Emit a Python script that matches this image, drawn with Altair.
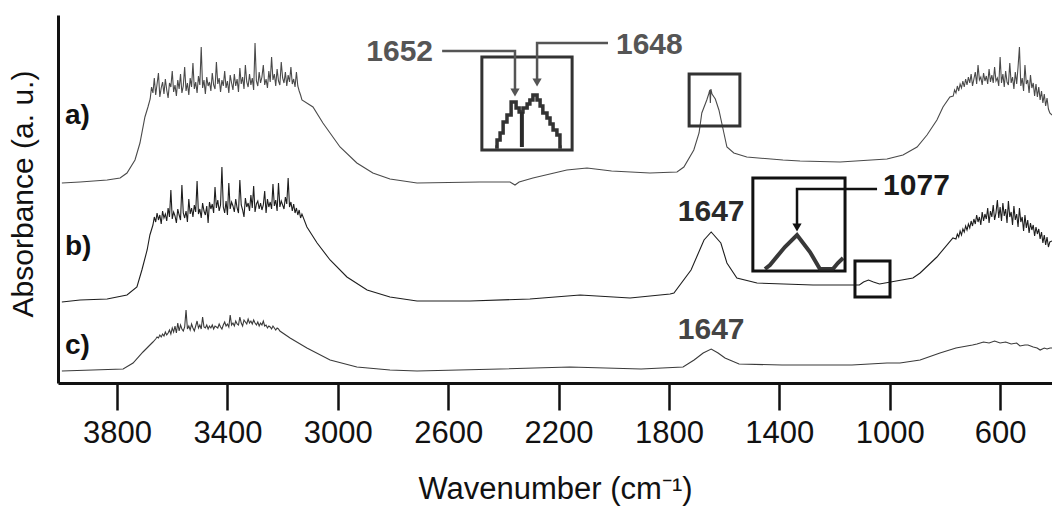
import altair as alt
import pandas as pd

# ---------------------------------------------------------------------------
# FTIR spectra a), b), c)  -- wavenumber (cm-1) vs. absorbance (a.u., stacked)
# ---------------------------------------------------------------------------
X_DOMAIN = [412, 4014]
Y_DOMAIN = [0, 368]
TICKS = [3800, 3400, 3000, 2600, 2200, 1800, 1400, 1000, 600]
NOISE_STEP = 5  # cm-1 between samples in the noisy bands

# smooth stretches of each spectrum: (wavenumber, absorbance)
a_smooth = [
    (4000, 200), (3934, 201), (3836, 203), (3789, 205), (3764, 210), (3735, 223),
    (3717, 240), (3699, 266), (3688, 276),
    (3090, 276), (3054, 260), (2992, 236), (2931, 220), (2873, 210), (2811, 204),
    (2713, 200), (2485, 201), (2376, 201), (2358, 198), (2343, 201), (2293, 205),
    (2170, 213), (2097, 215), (2008, 212), (1869, 210), (1771, 211),
    (1746, 216), (1710, 233), (1691, 250), (1681, 270), (1663, 283), (1656, 289),
    (1652, 293), (1650, 280), (1648, 294), (1644, 289), (1632, 284), (1619, 273),
    (1601, 250), (1590, 236), (1565, 230), (1518, 226), (1387, 223), (1325, 222),
    (1180, 221), (1010, 224), (952, 228), (901, 236), (865, 248), (829, 263),
    (807, 276), (782, 286), (412, 268),
]
# noisy bands, one value every NOISE_STEP cm-1 from the start wavenumber downwards
a_oh_start = 3680
a_oh = [
    284, 296, 290, 305, 288, 299, 310, 286, 295, 301,
    289, 304, 293, 285, 300, 296, 312, 291, 298, 287,
    303, 294, 309, 290, 297, 316, 292, 300, 288, 305,
    296, 320, 294, 301, 290, 307, 298, 336, 295, 303,
    289, 306, 297, 301, 292, 310, 298, 294, 321, 299,
    305, 291, 303, 297, 312, 295, 302, 290, 308, 300,
    293, 309, 297, 304, 291, 315, 299, 306, 294, 318,
    301, 296, 309, 298, 305, 293, 340, 302, 297, 311,
    300, 306, 318, 298, 304, 295, 312, 301, 326, 303,
    309, 297, 314, 302, 298, 321, 305, 300, 311, 297,
    308, 301, 316, 299, 304, 296, 311, 297, 292, 288, 283,
]
a_lib_start = 770
a_lib = [
    287, 293, 290, 297, 292, 299, 295, 302, 296, 304,
    298, 306, 300, 309, 297, 304, 311, 299, 318, 303,
    306, 298, 310, 302, 307, 299, 314, 301, 308, 300,
    316, 302, 305, 297, 326, 300, 309, 296, 312, 301,
    298, 320, 300, 306, 294, 311, 299, 316, 336, 297,
    305, 292, 318, 299, 303, 290, 308, 295, 300, 287,
    299, 286, 296, 283, 292, 280, 289, 277, 285, 274,
    270,
]

b_smooth = [
    (4000, 81), (3934, 83), (3836, 84), (3764, 88), (3728, 96), (3710, 113),
    (3691, 133), (3681, 148),
    (3112, 156), (3075, 140), (3028, 123), (2967, 106), (2894, 93), (2811, 86),
    (2713, 82), (2521, 82), (2304, 84), (2122, 88), (1941, 85), (1796, 89),
    (1782, 90), (1720, 113), (1673, 143), (1647, 151), (1612, 140), (1590, 120),
    (1554, 105), (1481, 100), (1278, 98), (1180, 98),
    (1110, 98), (1095, 101), (1077, 103), (1059, 101), (1037, 99),
    (916, 105), (890, 110), (829, 126), (771, 145), (412, 142),
]
b_oh_start = 3670
b_oh = [
    158, 166, 161, 170, 163, 168, 159, 172, 165, 169,
    162, 175, 166, 193, 164, 171, 167, 160, 174, 168,
    163, 198, 170, 165, 172, 161, 184, 169, 175, 166,
    178, 171, 202, 169, 174, 165, 180, 172, 168, 177,
    160, 181, 174, 179, 170, 196, 175, 183, 172, 178,
    216, 176, 170, 182, 168, 200, 174, 181, 177, 171,
    184, 175, 170, 203, 178, 173, 166, 185, 176, 180,
    172, 188, 175, 197, 171, 179, 182, 174, 180, 173,
    178, 192, 170, 184, 176, 181, 174, 199, 177, 183,
    172, 200, 176, 182, 178, 174, 186, 179, 205, 176,
    181, 172, 179, 170, 175, 168, 173, 165, 169,
]
b_lib_start = 760
b_lib = [
    144, 149, 146, 152, 148, 154, 151, 157, 153, 159,
    155, 162, 157, 164, 159, 168, 161, 166, 158, 171,
    162, 169, 164, 175, 160, 172, 166, 178, 163, 170,
    183, 165, 176, 162, 180, 167, 174, 160, 182, 166,
    171, 158, 177, 163, 169, 156, 175, 161, 166, 152,
    168, 155, 163, 150, 160, 153, 158, 147, 156, 149,
    154, 144, 151, 140, 148, 138, 146, 136, 141,
]

c_smooth = [
    (4000, 12), (3778, 14), (3742, 20), (3706, 31), (3670, 41),
    (3173, 45), (3112, 35), (3028, 23), (2931, 16), (2811, 13), (2713, 12),
    (2412, 14), (2159, 16), (1901, 14), (1749, 16),
    (1709, 23), (1676, 30), (1647, 34), (1622, 30), (1597, 25), (1546, 19),
    (1390, 18), (1137, 18), (1010, 20), (963, 20), (890, 23), (818, 30),
    (760, 35), (740, 36), (720, 37), (700, 38), (684, 39), (660, 41), (640, 40),
    (620, 42), (600, 40), (580, 41), (560, 39), (540, 40), (528, 37), (510, 38),
    (499, 38), (480, 36), (466, 35), (455, 33), (440, 35), (430, 34), (419, 35),
    (412, 35),
]
c_oh_start = 3660
c_oh = [
    44, 46, 45, 48, 46, 49, 47, 51, 48, 50,
    53, 49, 55, 51, 57, 50, 60, 52, 58, 54,
    52, 56, 73, 54, 57, 53, 59, 55, 52, 57,
    62, 55, 58, 54, 66, 56, 55, 58, 54, 57,
    55, 58, 54, 57, 56, 55, 59, 56, 54, 58,
    61, 57, 59, 56, 68, 58, 60, 57, 62, 59,
    58, 66, 60, 57, 63, 61, 59, 64, 60, 62,
    59, 63, 60, 58, 61, 57, 60, 58, 62, 57,
    58, 55, 57, 56, 54, 57, 55, 53, 55, 54,
    52,
]

trace_names = ["a", "b", "c"]
trace_colors = ["#4a4a4a", "#1e1e1e", "#3a3a3a"]


def sampled(start, values, step=NOISE_STEP):
    return [(start - step * i, v) for i, v in enumerate(values)]


def spectrum(name, *parts):
    rows = [p for part in parts for p in part]
    df = pd.DataFrame(rows, columns=["w", "y"]).sort_values("w")
    df["trace"] = name
    return df


spectra = pd.concat([
    spectrum("a", a_smooth, sampled(a_oh_start, a_oh), sampled(a_lib_start, a_lib)),
    spectrum("b", b_smooth, sampled(b_oh_start, b_oh), sampled(b_lib_start, b_lib)),
    spectrum("c", c_smooth, sampled(c_oh_start, c_oh)),
], ignore_index=True)

# ---------------------------------------------------------------------------
# annotations: frames, magnified insets, arrows and peak labels
# ---------------------------------------------------------------------------
frames = pd.DataFrame({
    "w":  [2478, 1727, 1496, 1126],
    "w2": [2151, 1543, 1162, 999],
    "y":  [326, 309, 205, 122],
    "y2": [233, 257, 112, 86],
    "col": ["#333333", "#333333", "#111111", "#111111"],
})

# magnified 1652/1648 doublet of spectrum a (pixelated step outline)
inset_a_w = [2430, 2423, 2412, 2401, 2387, 2372, 2354, 2343, 2329, 2314, 2304,
             2293, 2278, 2267, 2257, 2242, 2231, 2220, 2206, 2195, 2188]
inset_a_y = [236, 243, 250, 261, 268, 281, 275, 271, 275, 279, 283,
             288, 283, 277, 270, 265, 259, 253, 248, 236, 236]
inset_a_bar = {"w": [2333], "y": [271], "y2": [236]}

# magnified 1077 band of spectrum b
inset_b_w = [1452, 1434, 1380, 1336, 1289, 1253, 1206, 1188, 1169]
inset_b_y = [114, 118, 136, 148, 131, 114, 114, 120, 125]

arrow_paths = {
    "1652": ([2622, 2358, 2358], [332, 332, 293], "#555555"),
    "1648": ([2021, 2278, 2278], [340, 340, 303], "#555555"),
    "1077": ([1046, 1336, 1336], [194, 194, 158], "#111111"),
}
arrow_heads = pd.DataFrame({
    "w": [2358, 2278, 1336],
    "y": [290.5, 300.5, 155.5],
    "col": ["#555555", "#555555", "#111111"],
})

labels_right = pd.DataFrame({"w": [2655], "y": [331], "text": ["1652"], "col": ["#555555"]})
labels_left = pd.DataFrame({"w": [1992, 1024], "y": [338, 197],
                            "text": ["1648", "1077"], "col": ["#555555", "#1a1a1a"]})
labels_center = pd.DataFrame({"w": [1647, 1647], "y": [171, 53],
                              "text": ["1647", "1647"], "col": ["#2a2a2a", "#444444"]})
trace_labels = pd.DataFrame({"w": [3989, 3989, 3989], "y": [267, 136, 37],
                             "text": ["a)", "b)", "c)"]})

# ---------------------------------------------------------------------------
FONT = "Liberation Sans"

x_axis = alt.Axis(
    values=TICKS, format="d", title="Wavenumber (cm\u207b\u00b9)", grid=False,
    labelFont=FONT, labelFontSize=31, labelColor="#111111", labelPadding=8,
    labelFlush=False, labelOverlap=False,
    tickSize=27, tickWidth=2.5, tickColor="#111111",
    domainColor="#111111", domainWidth=3,
    titleFont=FONT, titleFontSize=31, titleFontWeight="normal", titleColor="#111111",
    titleY=115, titleBaseline="alphabetic",
)
y_axis = alt.Axis(
    title="Absorbance (a. u.)", labels=False, ticks=False, grid=False,
    domainColor="#111111", domainWidth=3,
    titleFont=FONT, titleFontSize=30, titleFontWeight="normal", titleColor="#111111",
    titleX=-35, titleY=178.5, titleAngle=270, titleAlign="center", titleBaseline="middle",
)
x_scale = alt.Scale(domain=X_DOMAIN, reverse=True, nice=False, zero=False)
y_scale = alt.Scale(domain=Y_DOMAIN, nice=False, zero=False)


def X(field="w"):
    return alt.X(f"{field}:Q", scale=x_scale, axis=x_axis)


def Y(field="y"):
    return alt.Y(f"{field}:Q", scale=y_scale, axis=y_axis)


lines = alt.Chart(spectra).mark_line(strokeWidth=1.1).encode(
    x=X(), y=Y(),
    color=alt.Color("trace:N", scale=alt.Scale(domain=trace_names, range=trace_colors), legend=None),
    detail="trace:N",
)

frame_layer = alt.Chart(frames).mark_rect(fillOpacity=0, strokeWidth=3).encode(
    x=X(), x2="w2:Q", y=Y(), y2="y2:Q",
    stroke=alt.Stroke("col:N", scale=None),
)

inset_a_df = pd.DataFrame({"w": inset_a_w, "y": inset_a_y, "i": range(len(inset_a_w))})
inset_a_layer = alt.Chart(inset_a_df).mark_line(
    interpolate="step-after", strokeWidth=3.5, color="#333333"
).encode(x=X(), y=Y(), order="i:Q")

inset_a_bar_layer = alt.Chart(pd.DataFrame(inset_a_bar)).mark_rule(
    strokeWidth=4, color="#2a2a2a"
).encode(x=X(), y=Y(), y2="y2:Q")

inset_b_df = pd.DataFrame({"w": inset_b_w, "y": inset_b_y, "i": range(len(inset_b_w))})
inset_b_layer = alt.Chart(inset_b_df).mark_line(
    strokeWidth=4, color="#222222", opacity=0.9
).encode(x=X(), y=Y(), order="i:Q")

arrow_rows = []
for name, (ws, ys, col) in arrow_paths.items():
    for i, (w, y) in enumerate(zip(ws, ys)):
        arrow_rows.append({"arrow": name, "w": w, "y": y, "i": i, "col": col})
arrow_layer = alt.Chart(pd.DataFrame(arrow_rows)).mark_line(strokeWidth=2.5).encode(
    x=X(), y=Y(), order="i:Q", detail="arrow:N",
    color=alt.Color("col:N", scale=None),
)
head_layer = alt.Chart(arrow_heads).mark_point(
    shape="triangle-down", filled=True, size=85, opacity=1
).encode(x=X(), y=Y(), color=alt.Color("col:N", scale=None))


def text_layer(df, align, size=30):
    return alt.Chart(df).mark_text(
        align=align, baseline="middle", font=FONT, fontSize=size, fontWeight="bold"
    ).encode(x=X(), y=Y(), text="text:N", color=alt.Color("col:N", scale=None))


trace_label_layer = alt.Chart(trace_labels).mark_text(
    align="left", baseline="middle", font=FONT, fontSize=28, fontWeight="bold", color="#111111"
).encode(x=X(), y=Y(), text="text:N")

chart = alt.layer(
    lines, frame_layer, inset_a_layer, inset_a_bar_layer, inset_b_layer,
    arrow_layer, head_layer,
    text_layer(labels_right, "right"), text_layer(labels_left, "left"),
    text_layer(labels_center, "center"), trace_label_layer,
).properties(
    width=994, height=368,
    padding={"left": 58, "top": 15, "right": 0, "bottom": 125},
    autosize=alt.AutoSizeParams(type="none"),
    background="white",
).configure_view(stroke=None)

chart.save("out.html", embed_options={"renderer": "svg", "actions": False})
